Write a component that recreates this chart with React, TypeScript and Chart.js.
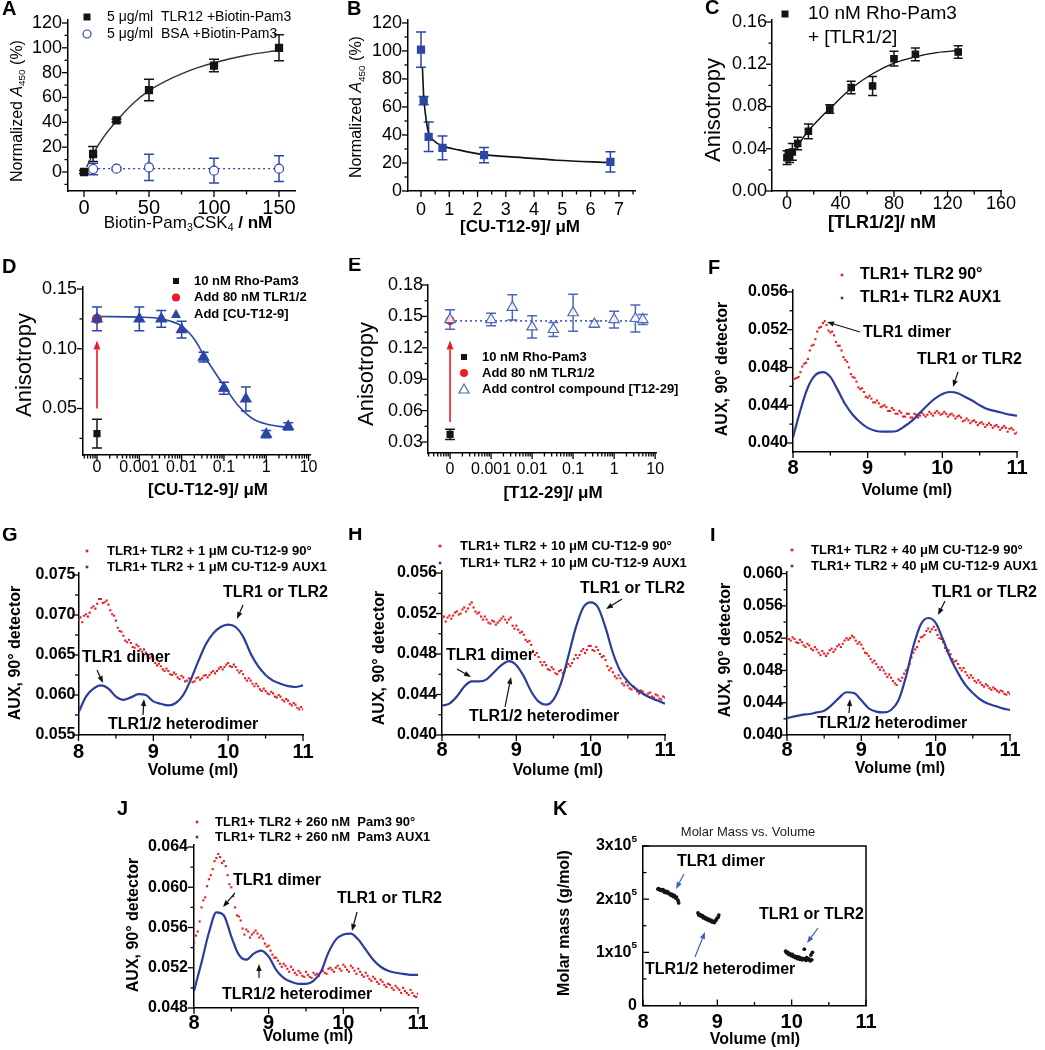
import React, { useEffect, useRef } from "react";
import { Chart, registerables } from "chart.js";
Chart.register(...registerables);

const FONT = '"Liberation Sans", Arial, Helvetica, sans-serif';
const BLACK = "#141414";
const BLUE = "#2c46a6";
const BLUE_LIGHT = "#4d66bd";
const RED = "#ea1c22";
const LINE_BLUE = "#2b3d9c";

// ---------------- Panel A ----------------
const aConc = [0, 7, 25, 50, 100, 150];
const aTlr12 = [0, 14.5, 41.5, 66, 85.7, 100];
const aTlr12Err = [1.2, 6, 1.2, 8.6, 5, 10.5];
const aBsaConc = [7, 25, 50, 100, 150];
const aBsa = [2.4, 2.7, 3.7, 1.1, 2.7];
const aBsaErr = [4.7, 1, 10.6, 10, 10.3];
const aFitConc = [2, 7, 15, 25, 37.5, 50, 62.5, 75, 87.5, 100, 125, 150];
const aFit = [4, 14.5, 28, 41, 55, 65.5, 73, 79, 84, 88, 94, 98];
const aBsaLevelConc = [7, 150];
const aBsaLevel = [2.7, 2.7];
const aXTicks = [0, 50, 100, 150];
const aXMinor = [25, 75, 125];
const aYTicks = [0, 20, 40, 60, 80, 100, 120];
const aYMinor = [-10, 10, 30, 50, 70, 90, 110];

// ---------------- Panel B ----------------
const bConc = [0, 0.094, 0.27, 0.76, 2.23, 6.7];
const bSignal = [100.9, 64.5, 38.7, 30.8, 25.6, 20.8];
const bErr = [12.6, 3, 10.5, 8.4, 5.5, 7.2];
const bFitConc = [0.05, 0.1, 0.15, 0.25, 0.45, 0.8, 1.3, 2.2, 3.5, 4.8, 6.7];
const bFit = [88, 66, 56, 43, 36, 32, 29.5, 26, 24, 22, 20.3];
const bXTicks = [0, 1, 2, 3, 4, 5, 6, 7];
const bXMinor = [0.5, 1.5, 2.5, 3.5, 4.5, 5.5, 6.5, 7.5];
const bYTicks = [0, 20, 40, 60, 80, 100, 120];
const bYMinor = [10, 30, 50, 70, 90, 110];

// ---------------- Panel C ----------------
const cConc = [0, 1, 2, 4, 8, 16, 32, 48, 64, 80, 96, 128];
const cAniso = [0.0316, 0.034, 0.033, 0.037, 0.045, 0.0565, 0.0776, 0.098, 0.0995, 0.1253, 0.1294, 0.1316];
const cErr = [0.0066, 0.004, 0.006, 0.008, 0.006, 0.007, 0.004, 0.006, 0.009, 0.007, 0.006, 0.006];
const cFitConc = [0, 4, 8, 16, 24, 32, 48, 64, 80, 96, 112, 128];
const cFit = [0.029, 0.036, 0.043, 0.057, 0.068, 0.078, 0.097, 0.111, 0.121, 0.127, 0.131, 0.133];
const cXTicks = [0, 40, 80, 120, 160];
const cXMinor = [20, 60, 100, 140];
const cYTicks = [0, 0.04, 0.08, 0.12, 0.16];
const cYLabels = ["0.00", "0.04", "0.08", "0.12", "0.16"];
const cYMinor = [0.02, 0.06, 0.1, 0.14];

// ---------------- Panel D ----------------
const dProbeConc = [1e-4];
const dProbe = [0.029];
const dProbeErr = [0.012];
const dTlrConc = [1e-4];
const dTlr = [0.125];
const dConc = [1e-4, 1e-3, 3.3e-3, 0.01, 0.033, 0.1, 0.33, 1, 3.3];
const dAniso = [0.125, 0.125, 0.125, 0.116, 0.093, 0.067, 0.058, 0.0285, 0.035];
const dErr = [0.01, 0.01, 0.007, 0.007, 0.004, 0.005, 0.01, 0.003, 0.003];
const dFitConc = [1e-4, 1e-3, 3.3e-3, 0.01, 0.02, 0.033, 0.05, 0.1, 0.2, 0.33, 0.5, 1, 3.3];
const dFit = [0.127, 0.1265, 0.125, 0.119, 0.108, 0.095, 0.085, 0.069, 0.054, 0.046, 0.041, 0.037, 0.034];
const logTicks = [1e-4, 1e-3, 1e-2, 0.1, 1, 10];
const logLabels = ["0", "0.001", "0.01", "0.1", "1", "10"];
const dYTicks = [0.05, 0.1, 0.15];
const dYLabels = ["0.05", "0.10", "0.15"];
const dYMinor = [0.025, 0.075, 0.125];

// ---------------- Panel E ----------------
const eProbeConc = [1e-4];
const eProbe = [0.0373];
const eProbeErr = [0.0048];
const eTlrConc = [1e-4];
const eTlr = [0.146];
const eConc = [1e-4, 1e-3, 3.3e-3, 0.01, 0.033, 0.1, 0.33, 1, 3.3, 5];
const eAniso = [0.147, 0.147, 0.1586, 0.14, 0.1375, 0.1535, 0.1427, 0.147, 0.148, 0.147];
const eErr = [0.0093, 0.006, 0.012, 0.0107, 0.0067, 0.0176, 0.003, 0.008, 0.013, 0.0048];
const eLevelConc = [1e-4, 5.7];
const eLevel = [0.1457, 0.1457];
const eYTicks = [0.03, 0.06, 0.09, 0.12, 0.15, 0.18];
const eYLabels = ["0.03", "0.06", "0.09", "0.12", "0.15", "0.18"];
const eYMinor = [0.045, 0.075, 0.105, 0.135, 0.165];

// ---------------- SEC traces F-J ----------------
const volBlue = [8.0, 8.1, 8.2, 8.3, 8.4, 8.5, 8.6, 8.7, 8.8, 8.9, 9.0, 9.1, 9.2, 9.3, 9.4, 9.5, 9.6, 9.7, 9.8, 9.9, 10.0, 10.1, 10.2, 10.3, 10.4, 10.5, 10.6, 10.7, 10.8, 10.9, 11.0];
const volRed = [8.0, 8.05, 8.1, 8.15, 8.2, 8.25, 8.3, 8.35, 8.4, 8.45, 8.5, 8.55, 8.6, 8.65, 8.7, 8.75, 8.8, 8.85, 8.9, 8.95, 9.0, 9.05, 9.1, 9.15, 9.2, 9.25, 9.3, 9.35, 9.4, 9.45, 9.5, 9.55, 9.6, 9.65, 9.7, 9.75, 9.8, 9.85, 9.9, 9.95, 10.0, 10.05, 10.1, 10.15, 10.2, 10.25, 10.3, 10.35, 10.4, 10.45, 10.5, 10.55, 10.6, 10.65, 10.7, 10.75, 10.8, 10.85, 10.9, 10.95, 11.0];
const volRedB = [8.025, 8.075, 8.125, 8.175, 8.225, 8.275, 8.325, 8.375, 8.425, 8.475, 8.525, 8.575, 8.625, 8.675, 8.725, 8.775, 8.825, 8.875, 8.925, 8.975, 9.025, 9.075, 9.125, 9.175, 9.225, 9.275, 9.325, 9.375, 9.425, 9.475, 9.525, 9.575, 9.625, 9.675, 9.725, 9.775, 9.825, 9.875, 9.925, 9.975, 10.025, 10.075, 10.125, 10.175, 10.225, 10.275, 10.325, 10.375, 10.425, 10.475, 10.525, 10.575, 10.625, 10.675, 10.725, 10.775, 10.825, 10.875, 10.925, 10.975];

const fAux1 = [0.0406, 0.0435, 0.0459, 0.0472, 0.0475, 0.047, 0.0456, 0.0441, 0.043, 0.0422, 0.0416, 0.0413, 0.0412, 0.0412, 0.0413, 0.0418, 0.0424, 0.0432, 0.044, 0.0447, 0.0452, 0.0454, 0.0453, 0.0449, 0.0445, 0.044, 0.0436, 0.0434, 0.0432, 0.043, 0.0429];
const f90 = [0.0463, 0.0469, 0.0475, 0.0484, 0.0489, 0.0503, 0.051, 0.0522, 0.0527, 0.0525, 0.0517, 0.0514, 0.0503, 0.0498, 0.0488, 0.048, 0.047, 0.0465, 0.0457, 0.0454, 0.0448, 0.0447, 0.0443, 0.0442, 0.0439, 0.0438, 0.0434, 0.0435, 0.0431, 0.0432, 0.0428, 0.0431, 0.0427, 0.043, 0.0429, 0.043, 0.043, 0.0431, 0.0432, 0.0432, 0.0431, 0.0431, 0.043, 0.0429, 0.0428, 0.0427, 0.0424, 0.0424, 0.0423, 0.0422, 0.0421, 0.042, 0.0419, 0.0419, 0.0418, 0.0417, 0.0416, 0.0416, 0.0415, 0.0414, 0.0411];
const f90b = [0.0468, 0.047, 0.0481, 0.0485, 0.0498, 0.0504, 0.0518, 0.0523, 0.0529, 0.0519, 0.0518, 0.0507, 0.0503, 0.0491, 0.0486, 0.0473, 0.0469, 0.0459, 0.0458, 0.0449, 0.045, 0.0443, 0.0445, 0.0438, 0.044, 0.0434, 0.0437, 0.0431, 0.0434, 0.0428, 0.0431, 0.0427, 0.0431, 0.0427, 0.0432, 0.0428, 0.0433, 0.0429, 0.0434, 0.043, 0.0433, 0.0428, 0.0431, 0.0426, 0.0429, 0.0423, 0.0426, 0.0421, 0.0424, 0.0419, 0.0422, 0.0417, 0.0421, 0.0416, 0.0419, 0.0414, 0.0418, 0.0412, 0.0416, 0.041];

const gAux1 = [0.0578, 0.0598, 0.0608, 0.0612, 0.0608, 0.0598, 0.0594, 0.0597, 0.0601, 0.06, 0.0592, 0.0589, 0.0587, 0.059, 0.06, 0.0619, 0.0642, 0.0663, 0.0677, 0.0685, 0.0688, 0.0685, 0.0673, 0.0652, 0.0636, 0.0625, 0.0618, 0.0614, 0.0611, 0.061, 0.0612];
const g90 = [0.0694, 0.0691, 0.0701, 0.0703, 0.0711, 0.0714, 0.072, 0.0716, 0.0713, 0.0701, 0.0693, 0.068, 0.0674, 0.0666, 0.0665, 0.0659, 0.0661, 0.0654, 0.0653, 0.0646, 0.0645, 0.0637, 0.0636, 0.063, 0.063, 0.0625, 0.0626, 0.062, 0.0622, 0.0618, 0.062, 0.0617, 0.0622, 0.0621, 0.0625, 0.0625, 0.063, 0.063, 0.0635, 0.0635, 0.064, 0.0635, 0.0635, 0.0628, 0.0626, 0.0618, 0.0618, 0.0611, 0.0611, 0.0605, 0.0605, 0.0601, 0.0602, 0.0597, 0.0598, 0.0592, 0.0593, 0.0587, 0.0588, 0.0582, 0.0582];
const g90b = [0.0697, 0.0699, 0.0698, 0.0709, 0.0708, 0.072, 0.0715, 0.0718, 0.0706, 0.0699, 0.0684, 0.0679, 0.0668, 0.0669, 0.066, 0.0663, 0.0657, 0.0657, 0.0648, 0.0648, 0.064, 0.0639, 0.0632, 0.0633, 0.0626, 0.0628, 0.0622, 0.0624, 0.0617, 0.0621, 0.0616, 0.0621, 0.0619, 0.0624, 0.0622, 0.0628, 0.0627, 0.0633, 0.0632, 0.0638, 0.0636, 0.0638, 0.0631, 0.063, 0.0621, 0.0621, 0.0614, 0.0614, 0.0607, 0.0608, 0.0602, 0.0604, 0.0598, 0.06, 0.0594, 0.0595, 0.0589, 0.059, 0.0584, 0.0585];

const hAux1 = [0.0429, 0.0431, 0.0438, 0.0448, 0.0453, 0.0453, 0.0455, 0.0462, 0.0469, 0.0473, 0.0469, 0.0458, 0.0443, 0.0433, 0.043, 0.0435, 0.0451, 0.0478, 0.0506, 0.0526, 0.0531, 0.0526, 0.0506, 0.0481, 0.0463, 0.0453, 0.0446, 0.0441, 0.0437, 0.0434, 0.0431];
const h90 = [0.0515, 0.0512, 0.0518, 0.0518, 0.0522, 0.052, 0.0526, 0.0525, 0.0531, 0.0522, 0.0521, 0.0514, 0.0514, 0.051, 0.0512, 0.0511, 0.0515, 0.0514, 0.0514, 0.0508, 0.0508, 0.0501, 0.0499, 0.0492, 0.0489, 0.0479, 0.0477, 0.0469, 0.0469, 0.0464, 0.0465, 0.046, 0.0464, 0.0463, 0.047, 0.0471, 0.0479, 0.0479, 0.0485, 0.0484, 0.0488, 0.0483, 0.0484, 0.0477, 0.0474, 0.0464, 0.0462, 0.0456, 0.0456, 0.0449, 0.0449, 0.0445, 0.0446, 0.0441, 0.0443, 0.0439, 0.0442, 0.0437, 0.0439, 0.0435, 0.0437];
const h90b = [0.0517, 0.0516, 0.0515, 0.0521, 0.0519, 0.0524, 0.0522, 0.0529, 0.0526, 0.052, 0.0517, 0.0517, 0.0511, 0.0513, 0.0509, 0.0513, 0.0517, 0.0511, 0.0516, 0.0505, 0.0504, 0.0502, 0.0494, 0.0493, 0.0483, 0.0481, 0.0472, 0.0472, 0.0465, 0.0467, 0.0461, 0.0463, 0.0461, 0.0467, 0.0468, 0.0475, 0.0476, 0.0483, 0.0481, 0.0488, 0.0484, 0.0487, 0.048, 0.0478, 0.0468, 0.0466, 0.0458, 0.0459, 0.0451, 0.0452, 0.0446, 0.0448, 0.0443, 0.0444, 0.044, 0.0441, 0.0438, 0.044, 0.0436, 0.0438];

const iAux1 = [0.0421, 0.0423, 0.0425, 0.0426, 0.0428, 0.043, 0.0437, 0.0446, 0.0453, 0.0452, 0.0443, 0.0433, 0.0429, 0.0428, 0.0431, 0.0443, 0.0472, 0.051, 0.0537, 0.0545, 0.0539, 0.0518, 0.0495, 0.0477, 0.0462, 0.0452, 0.0444, 0.0439, 0.0436, 0.0433, 0.0431];
const i90 = [0.0523, 0.0517, 0.0519, 0.0514, 0.0515, 0.0509, 0.0511, 0.0505, 0.0506, 0.0499, 0.0501, 0.0501, 0.0507, 0.0506, 0.0512, 0.0513, 0.052, 0.052, 0.0521, 0.0513, 0.0512, 0.0502, 0.0498, 0.049, 0.0488, 0.0481, 0.048, 0.0472, 0.0471, 0.0464, 0.0469, 0.0471, 0.048, 0.0488, 0.0502, 0.0509, 0.0521, 0.0524, 0.0532, 0.0531, 0.053, 0.052, 0.0515, 0.0504, 0.05, 0.0491, 0.0488, 0.048, 0.0478, 0.0471, 0.0471, 0.0465, 0.0465, 0.046, 0.0461, 0.0456, 0.0457, 0.0453, 0.0454, 0.045, 0.0451];
const i90b = [0.0519, 0.0521, 0.0515, 0.0518, 0.0511, 0.0513, 0.0507, 0.0509, 0.0502, 0.0504, 0.0498, 0.0505, 0.0503, 0.051, 0.0509, 0.0517, 0.0518, 0.0523, 0.0517, 0.0515, 0.0507, 0.0501, 0.0494, 0.0492, 0.0484, 0.0484, 0.0476, 0.0475, 0.0467, 0.0462, 0.0467, 0.0476, 0.0483, 0.0496, 0.0506, 0.0516, 0.0522, 0.0529, 0.0528, 0.0534, 0.0524, 0.0519, 0.0508, 0.0505, 0.0494, 0.0492, 0.0483, 0.0483, 0.0474, 0.0474, 0.0467, 0.0468, 0.0462, 0.0463, 0.0458, 0.0459, 0.0455, 0.0455, 0.0451, 0.0453];

const jAux1 = [0.0497, 0.0525, 0.0555, 0.0575, 0.0572, 0.0551, 0.0533, 0.0528, 0.0534, 0.0537, 0.0531, 0.0518, 0.051, 0.0506, 0.0504, 0.0504, 0.0507, 0.0516, 0.0535, 0.0548, 0.0553, 0.0554, 0.0548, 0.0538, 0.0528, 0.0521, 0.0517, 0.0515, 0.0514, 0.0513, 0.0513];
const j90 = [0.0545, 0.0556, 0.058, 0.059, 0.0608, 0.0618, 0.0629, 0.063, 0.0626, 0.0612, 0.06, 0.058, 0.0571, 0.0559, 0.0558, 0.055, 0.0555, 0.0554, 0.0552, 0.0544, 0.0542, 0.0533, 0.053, 0.0524, 0.0524, 0.0519, 0.0521, 0.0515, 0.0517, 0.0512, 0.0516, 0.0511, 0.0515, 0.0514, 0.0516, 0.0515, 0.0519, 0.0518, 0.052, 0.0519, 0.0523, 0.0518, 0.0522, 0.0517, 0.0519, 0.0513, 0.0515, 0.0509, 0.0511, 0.0506, 0.0508, 0.0503, 0.0504, 0.05, 0.0502, 0.0498, 0.05, 0.0495, 0.0498, 0.0492, 0.0494];
const j90b = [0.0552, 0.0566, 0.0587, 0.0601, 0.0612, 0.0626, 0.0633, 0.0624, 0.0621, 0.0603, 0.0591, 0.0572, 0.0567, 0.0553, 0.0556, 0.0553, 0.0557, 0.055, 0.0549, 0.0541, 0.0537, 0.053, 0.0527, 0.0521, 0.0522, 0.0516, 0.0518, 0.0513, 0.0515, 0.0511, 0.0513, 0.051, 0.0513, 0.0512, 0.0517, 0.0514, 0.052, 0.0516, 0.0522, 0.0517, 0.0521, 0.0516, 0.052, 0.0514, 0.0516, 0.0511, 0.0512, 0.0507, 0.0509, 0.0504, 0.0506, 0.0501, 0.0503, 0.0498, 0.05, 0.0495, 0.0497, 0.0493, 0.0495, 0.0491];

const volTicks = [8, 9, 10, 11];
const volMinor = [8.5, 9.5, 10.5];
const fYTicks = [0.04, 0.044, 0.048, 0.052, 0.056];
const fYLabels = ["0.040", "0.044", "0.048", "0.052", "0.056"];
const fYMinor = [0.042, 0.046, 0.05, 0.054];
const gYTicks = [0.055, 0.06, 0.065, 0.07, 0.075];
const gYLabels = ["0.055", "0.060", "0.065", "0.070", "0.075"];
const gYMinor = [0.0575, 0.0625, 0.0675, 0.0725];
const iYTicks = [0.04, 0.044, 0.048, 0.052, 0.056, 0.06];
const iYLabels = ["0.040", "0.044", "0.048", "0.052", "0.056", "0.060"];
const iYMinor = [0.042, 0.046, 0.05, 0.054, 0.058];
const jYTicks = [0.048, 0.052, 0.056, 0.06, 0.064];
const jYLabels = ["0.048", "0.052", "0.056", "0.060", "0.064"];
const jYMinor = [0.05, 0.054, 0.058, 0.062];

// ---------------- Panel K ----------------
const kVol = [8.2, 8.21, 8.23, 8.24, 8.26, 8.27, 8.29, 8.3, 8.32, 8.33, 8.35, 8.36, 8.38, 8.39, 8.41, 8.42, 8.44, 8.45, 8.47, 8.48,
  8.74, 8.75, 8.77, 8.78, 8.8, 8.81, 8.83, 8.84, 8.86, 8.87, 8.89, 8.9, 8.92, 8.93, 8.95, 8.96, 8.98, 8.99, 9.01, 9.02,
  9.92, 9.93, 9.95, 9.96, 9.98, 9.99, 10.01, 10.02, 10.04, 10.05, 10.07, 10.08, 10.1, 10.11, 10.13, 10.14, 10.16, 10.17, 10.19, 10.2, 10.22, 10.23, 10.25, 10.26, 10.27, 10.28];
const kMass = [219000, 220000, 217000, 218000, 216000, 218000, 213000, 215000, 212000, 214000, 210000, 211000, 207000, 209000, 205000, 207000, 202000, 204000, 198000, 193000,
  174000, 170000, 171000, 168000, 169000, 165000, 166000, 163000, 164000, 161000, 162000, 159000, 160000, 157000, 158000, 156000, 160000, 163000, 166000, 170000,
  102000, 99000, 100000, 96000, 97000, 94000, 96000, 92000, 93000, 90000, 92000, 88000, 91000, 87000, 89000, 86000, 88000, 106000, 85000, 90000, 86000, 88000, 84000, 95000, 86000, 100000];
const kYTicks = [0, 100000, 200000, 300000];
const kYMinor = [50000, 150000, 250000];

// ---------------- helpers ----------------
const zip = (xs: number[], ys: number[]) => xs.map((x, i) => ({ x, y: ys[i] }));

function lineDs(xs: number[], ys: number[], color: string, width: number, dash: number[] = []) {
  return {
    data: zip(xs, ys), showLine: true, pointRadius: 0, borderColor: color, borderWidth: width,
    borderDash: dash, cubicInterpolationMode: "monotone", fill: false,
  };
}
function ptsDs(xs: number[], ys: number[], style: string, r: number, fillC: string, stroke: string, extra: any = {}) {
  return {
    data: zip(xs, ys), showLine: false, pointStyle: style, pointRadius: r, backgroundColor: fillC,
    borderColor: stroke, borderWidth: 1.2, ...extra,
  };
}
function redDots(xs: number[], ys: number[]) {
  return { data: zip(xs, ys), showLine: false, pointStyle: "rect", pointRadius: 1.5, backgroundColor: RED, borderWidth: 0 };
}
function blueTrace(ys: number[]) {
  return lineDs(volBlue, ys, LINE_BLUE, 2.2);
}
function logMinor(min: number, max: number) {
  const out: number[] = [];
  for (let d = -6; d <= 2; d++) {
    for (let k = 2; k <= 9; k++) {
      const v = k * Math.pow(10, d);
      if (v > min && v < max) out.push(v);
    }
  }
  return out;
}

type Run = { s: string; sub?: boolean; sup?: boolean; it?: boolean; b?: boolean };
type Txt = { r: string | Run[]; x: number; y: number; size: number; bold?: boolean; align?: string; rot?: boolean; color?: string };
type Arrow = { x1: number; y1: number; x2: number; y2: number; color?: string; w?: number; head?: number };
type LegendItem = { marker?: string; color?: string; mx?: number; tx: number; y: number; text: string; size: number; bold?: boolean };
type AxisSpec = { log?: boolean; min: number; max: number; major: number[]; minor: number[]; labels: string[]; size: number; bold?: boolean; pad: number };
type PanelSpec = {
  box: number[]; area: number[]; x: AxisSpec; y: AxisSpec; datasets: any[];
  texts: Txt[]; arrows?: Arrow[]; dataArrows?: Arrow[]; legend?: LegendItem[];
  frame?: boolean; inward?: boolean; yRich?: Run[][];
};

function drawRich(ctx: CanvasRenderingContext2D, r: string | Run[], x: number, y: number, size: number,
  align: string = "left", bold = false, rot = false, color = "#000") {
  const runs: Run[] = typeof r === "string" ? [{ s: r }] : r;
  const parts = runs.map((p) => {
    const sz = p.sub || p.sup ? size * 0.62 : size;
    const isB = p.b !== undefined ? p.b : bold;
    const font = `${p.it ? "italic " : ""}${isB ? "bold " : ""}${sz}px ${FONT}`;
    ctx.font = font;
    const w = ctx.measureText(p.s).width;
    const dy = p.sub ? size * 0.3 : p.sup ? -size * 0.42 : 0;
    return { s: p.s, font, w, dy };
  });
  const total = parts.reduce((a, p) => a + p.w, 0);
  ctx.save();
  ctx.translate(x, y);
  if (rot) ctx.rotate(-Math.PI / 2);
  let cx = align === "center" ? -total / 2 : align === "right" ? -total : 0;
  ctx.textBaseline = "middle";
  ctx.textAlign = "left";
  ctx.fillStyle = color;
  parts.forEach((p) => { ctx.font = p.font; ctx.fillText(p.s, cx, p.dy); cx += p.w; });
  ctx.restore();
}

function drawArrow(ctx: CanvasRenderingContext2D, x1: number, y1: number, x2: number, y2: number, color = "#111", w = 1.2, head = 7) {
  const ang = Math.atan2(y2 - y1, x2 - x1);
  const bx = x2 - head * Math.cos(ang);
  const by = y2 - head * Math.sin(ang);
  ctx.save();
  ctx.strokeStyle = color; ctx.fillStyle = color; ctx.lineWidth = w;
  ctx.beginPath(); ctx.moveTo(x1, y1); ctx.lineTo(bx, by); ctx.stroke();
  const hw = head * 0.38;
  ctx.beginPath();
  ctx.moveTo(x2, y2);
  ctx.lineTo(bx + hw * Math.sin(ang), by - hw * Math.cos(ang));
  ctx.lineTo(bx - hw * Math.sin(ang), by + hw * Math.cos(ang));
  ctx.closePath(); ctx.fill();
  ctx.restore();
}

function drawMarker(ctx: CanvasRenderingContext2D, kind: string, x: number, y: number, color: string) {
  ctx.save();
  ctx.fillStyle = color; ctx.strokeStyle = color; ctx.lineWidth = 1.2;
  if (kind === "rect") ctx.fillRect(x - 3.5, y - 3.5, 7, 7);
  else if (kind === "rectS") ctx.fillRect(x - 3, y - 3, 6, 6);
  else if (kind === "circle") { ctx.beginPath(); ctx.arc(x, y, 4, 0, Math.PI * 2); ctx.fill(); }
  else if (kind === "circleOpen") { ctx.beginPath(); ctx.arc(x, y, 4, 0, Math.PI * 2); ctx.fillStyle = "#fff"; ctx.fill(); ctx.stroke(); }
  else if (kind === "tri" || kind === "triOpen") {
    ctx.beginPath(); ctx.moveTo(x, y - 5); ctx.lineTo(x - 5, y + 4); ctx.lineTo(x + 5, y + 4); ctx.closePath();
    if (kind === "tri") ctx.fill(); else { ctx.fillStyle = "#fff"; ctx.fill(); ctx.stroke(); }
  } else if (kind === "dot") ctx.fillRect(x - 1.3, y - 1.3, 2.6, 2.6);
  ctx.restore();
}

const errorBarPlugin = {
  id: "errbars",
  beforeDatasetsDraw(chart: any) {
    const ctx = chart.ctx as CanvasRenderingContext2D;
    const xs = chart.scales.x, ys = chart.scales.y;
    chart.data.datasets.forEach((ds: any) => {
      if (!ds.errors) return;
      ctx.save();
      ctx.strokeStyle = ds.errorColor || ds.borderColor;
      ctx.lineWidth = 1.5;
      ds.data.forEach((pt: any, j: number) => {
        const e = ds.errors[j];
        if (!e) return;
        const x = xs.getPixelForValue(pt.x);
        const y1 = ys.getPixelForValue(pt.y - e);
        const y2 = ys.getPixelForValue(pt.y + e);
        const c = ds.cap || 5;
        ctx.beginPath();
        ctx.moveTo(x, y1); ctx.lineTo(x, y2);
        ctx.moveTo(x - c, y1); ctx.lineTo(x + c, y1);
        ctx.moveTo(x - c, y2); ctx.lineTo(x + c, y2);
        ctx.stroke();
      });
      ctx.restore();
    });
  },
};

function overlayPlugin(spec: PanelSpec) {
  return {
    id: "overlay",
    afterDraw(chart: any) {
      const ctx = chart.ctx as CanvasRenderingContext2D;
      const xs = chart.scales.x, ys = chart.scales.y;
      const a = chart.chartArea;
      const dir = spec.inward ? -1 : 1;
      ctx.save();
      ctx.strokeStyle = "#000";
      ctx.lineWidth = 1.3;
      const xt = (v: number, len: number) => {
        const p = xs.getPixelForValue(v);
        ctx.beginPath(); ctx.moveTo(p, a.bottom); ctx.lineTo(p, a.bottom + dir * len); ctx.stroke();
      };
      const yt = (v: number, len: number) => {
        const p = ys.getPixelForValue(v);
        ctx.beginPath(); ctx.moveTo(a.left, p); ctx.lineTo(a.left - dir * len, p); ctx.stroke();
      };
      spec.x.major.forEach((v) => xt(v, 6));
      spec.x.minor.forEach((v) => xt(v, 3.5));
      spec.y.major.forEach((v) => yt(v, 6));
      spec.y.minor.forEach((v) => yt(v, 3.5));
      if (spec.frame) {
        ctx.lineWidth = 1.5;
        ctx.beginPath();
        ctx.moveTo(a.left, a.top); ctx.lineTo(a.right, a.top); ctx.lineTo(a.right, a.bottom);
        ctx.stroke();
      }
      (spec.dataArrows || []).forEach((r) => {
        drawArrow(ctx, xs.getPixelForValue(r.x1), ys.getPixelForValue(r.y1), xs.getPixelForValue(r.x2), ys.getPixelForValue(r.y2), r.color, r.w, r.head);
      });
      if (spec.yRich) {
        spec.yRich.forEach((runs, i) => {
          drawRich(ctx, runs, a.left - 6, ys.getPixelForValue(spec.y.major[i]), spec.y.size, "right", true);
        });
      }
      ctx.translate(-spec.box[0], -spec.box[1]);
      spec.texts.forEach((t) => drawRich(ctx, t.r, t.x, t.y, t.size, t.align || "left", !!t.bold, !!t.rot, t.color || "#000"));
      (spec.arrows || []).forEach((r) => drawArrow(ctx, r.x1, r.y1, r.x2, r.y2, r.color || "#111", r.w || 1.2, r.head || 7));
      (spec.legend || []).forEach((li) => {
        if (li.marker) drawMarker(ctx, li.marker, li.mx || 0, li.y, li.color || "#000");
        drawRich(ctx, li.text, li.tx, li.y, li.size, "left", !!li.bold);
      });
      ctx.restore();
    },
  };
}

function axisOptions(ax: AxisSpec, size: number, horizontal: boolean) {
  return {
    type: ax.log ? "logarithmic" : "linear",
    position: horizontal ? "bottom" : "left",
    min: ax.min,
    max: ax.max,
    afterBuildTicks: (s: any) => { s.ticks = ax.major.map((v) => ({ value: v })); },
    afterFit: (s: any) => {
      if (horizontal) s.height = size; else s.width = size;
      s.paddingLeft = 0; s.paddingRight = 0; s.paddingTop = 0; s.paddingBottom = 0;
    },
    ticks: {
      autoSkip: false, maxRotation: 0, minRotation: 0, padding: ax.pad, color: "#000",
      font: { family: FONT, size: ax.size, weight: ax.bold ? "bold" : "normal" },
      callback: (_v: any, i: number) => (ax.labels[i] !== undefined ? ax.labels[i] : ""),
    },
    grid: { display: false, drawTicks: false },
    border: { display: true, color: "#000", width: 1.5 },
  };
}

function buildConfig(spec: PanelSpec): any {
  const [cl, ct, cw, ch] = spec.box;
  const [pl, pt, pr, pb] = spec.area;
  return {
    type: "scatter",
    data: { datasets: spec.datasets },
    options: {
      animation: false, responsive: false, maintainAspectRatio: false, events: [],
      layout: { padding: { left: 0, top: pt - ct, right: cl + cw - pr, bottom: 0 } },
      plugins: { legend: { display: false }, tooltip: { enabled: false }, title: { display: false } },
      scales: {
        x: axisOptions(spec.x, ct + ch - pb, true),
        y: axisOptions(spec.y, pl - cl, false),
      },
    },
    plugins: [errorBarPlugin, overlayPlugin(spec)],
  };
}

const volAxis = (pad: number): AxisSpec => ({ min: 8, max: 11, major: volTicks, minor: volMinor, labels: ["8", "9", "10", "11"], size: 20, bold: true, pad });
const auxTitle = (x: number, y: number): Txt => ({ r: "AUX, 90° detector", x, y, size: 16, bold: true, rot: true, align: "center" });
const volTitle = (x: number, y: number): Txt => ({ r: "Volume (ml)", x, y, size: 16, bold: true, align: "center" });
const letter = (s: string, x: number, y: number): Txt => ({ r: s, x, y, size: 20, bold: true });
const ann = (s: string, x: number, y: number): Txt => ({ r: s, x, y, size: 16, bold: true });
const normTitle: Run[] = [{ s: "Normalized " }, { s: "A", it: true }, { s: "450", sub: true }, { s: " (%)" }];

const panels: PanelSpec[] = [
  // A
  {
    box: [0, 0, 345, 262], area: [68, 20, 295, 191],
    x: { min: -12.3, max: 162.3, major: aXTicks, minor: aXMinor, labels: aXTicks.map(String), size: 20, pad: 5 },
    y: { min: -15.3, max: 122.4, major: aYTicks, minor: aYMinor, labels: aYTicks.map(String), size: 18, pad: 6 },
    datasets: [
      ptsDs(aConc, aTlr12, "rect", 5, BLACK, BLACK, { errors: aTlr12Err, cap: 5 }),
      ptsDs(aBsaConc, aBsa, "circle", 4.5, "#fff", BLUE, { errors: aBsaErr, cap: 5 }),
      lineDs(aFitConc, aFit, "#333", 1.4),
      lineDs(aBsaLevelConc, aBsaLevel, BLUE, 1.4, [2, 3]),
    ],
    texts: [
      letter("A", 2, 9.5),
      { r: normTitle, x: 17.5, y: 111, size: 16, rot: true, align: "center" },
      { r: [{ s: "Biotin-Pam" }, { s: "3", sub: true }, { s: "CSK" }, { s: "4", sub: true }, { s: " / nM", b: true }], x: 188, y: 223, size: 17, align: "center" },
    ],
    legend: [
      { marker: "rect", color: BLACK, mx: 87, tx: 107, y: 17, text: "5 μg/ml  TLR12 +Biotin-Pam3", size: 14 },
      { marker: "circleOpen", color: BLUE, mx: 87, tx: 107, y: 34, text: "5 μg/ml  BSA +Biotin-Pam3", size: 14 },
    ],
  },
  // B
  {
    box: [340, 0, 365, 262], area: [408, 20, 635, 191],
    x: { min: -0.46, max: 7.57, major: bXTicks, minor: bXMinor, labels: bXTicks.map(String), size: 18, pad: 8 },
    y: { min: 0, max: 122.1, major: bYTicks, minor: bYMinor, labels: bYTicks.map(String), size: 18, pad: 6 },
    datasets: [
      ptsDs(bConc, bSignal, "rect", 5, BLUE, BLUE, { errors: bErr, cap: 5 }),
      lineDs(bFitConc, bFit, "#111", 1.6),
    ],
    texts: [
      letter("B", 347, 9.5),
      { r: normTitle, x: 357, y: 107, size: 16, rot: true, align: "center" },
      { r: "[CU-T12-9]/ μM", x: 520, y: 227, size: 17, bold: true, align: "center" },
    ],
  },
  // C
  {
    box: [700, 0, 345, 262], area: [772, 20, 1001, 191],
    x: { min: -11.2, max: 160, major: cXTicks, minor: cXMinor, labels: cXTicks.map(String), size: 18, pad: 2.5 },
    y: { min: 0, max: 0.1619, major: cYTicks, minor: cYMinor, labels: cYLabels, size: 18, pad: 5 },
    datasets: [
      ptsDs(cConc, cAniso, "rect", 4.5, BLACK, BLACK, { errors: cErr, cap: 4.5 }),
      lineDs(cFitConc, cFit, "#111", 1.4),
    ],
    texts: [
      letter("C", 705, 8),
      { r: "Anisotropy", x: 714, y: 110, size: 22, rot: true, align: "center" },
      { r: "[TLR1/2]/ nM", x: 882, y: 223, size: 18, bold: true, align: "center" },
    ],
    legend: [
      { marker: "rect", color: BLACK, mx: 785, tx: 808, y: 14, text: "10 nM Rho-Pam3", size: 19 },
      { tx: 808, y: 38, text: "+ [TLR1/2]", size: 19 },
    ],
  },
  // D
  {
    box: [0, 258, 345, 272], area: [83, 287, 310, 455],
    x: { log: true, min: 4.67e-5, max: 10.8, major: logTicks, minor: logMinor(4.67e-5, 10.8), labels: logLabels, size: 16, pad: 3.4 },
    y: { min: 0.0111, max: 0.1517, major: dYTicks, minor: dYMinor, labels: dYLabels, size: 18, pad: 6 },
    datasets: [
      ptsDs(dProbeConc, dProbe, "rect", 4.2, BLACK, BLACK, { errors: dProbeErr, cap: 5 }),
      ptsDs(dConc, dAniso, "triangle", 6, BLUE, BLUE, { errors: dErr, cap: 5 }),
      ptsDs(dTlrConc, dTlr, "circle", 4.5, RED, RED),
      lineDs(dFitConc, dFit, BLUE, 1.6),
    ],
    dataArrows: [{ x1: 1e-4, y1: 0.05, x2: 1e-4, y2: 0.107, color: RED, w: 1.6, head: 9 }],
    texts: [
      letter("D", 2, 267),
      { r: "Anisotropy", x: 25, y: 365, size: 22, rot: true, align: "center" },
      { r: "[CU-T12-9]/ μM", x: 208, y: 490, size: 17, bold: true, align: "center" },
    ],
    legend: [
      { marker: "rectS", color: BLACK, mx: 176, tx: 194, y: 281, text: "10 nM Rho-Pam3", size: 13, bold: true },
      { marker: "circle", color: RED, mx: 176, tx: 194, y: 297.5, text: "Add 80 nM TLR1/2", size: 13, bold: true },
      { marker: "tri", color: BLUE, mx: 176, tx: 194, y: 314, text: "Add [CU-T12-9]", size: 13, bold: true },
    ],
  },
  // E
  {
    box: [340, 258, 365, 272], area: [428, 285, 656, 453],
    x: { log: true, min: 2.9e-5, max: 10.5, major: logTicks, minor: logMinor(2.9e-5, 10.5), labels: logLabels, size: 16, pad: 7 },
    y: { min: 0.0195, max: 0.18, major: eYTicks, minor: eYMinor, labels: eYLabels, size: 18, pad: 5 },
    datasets: [
      ptsDs(eProbeConc, eProbe, "rect", 4.2, BLACK, BLACK, { errors: eProbeErr, cap: 5 }),
      ptsDs(eConc, eAniso, "triangle", 6, "rgba(255,255,255,0.85)", BLUE_LIGHT, { errors: eErr, cap: 5, errorColor: BLUE_LIGHT }),
      ptsDs(eTlrConc, eTlr, "circle", 4, RED, RED),
      lineDs(eLevelConc, eLevel, BLUE_LIGHT, 1.6, [2, 3]),
    ],
    dataArrows: [{ x1: 1e-4, y1: 0.049, x2: 1e-4, y2: 0.127, color: RED, w: 1.6, head: 9 }],
    texts: [
      letter("E", 348, 265),
      { r: "Anisotropy", x: 367, y: 374, size: 22, rot: true, align: "center" },
      { r: "[T12-29]/ μM", x: 553, y: 493, size: 17, bold: true, align: "center" },
    ],
    legend: [
      { marker: "rectS", color: BLACK, mx: 464, tx: 482, y: 357, text: "10 nM Rho-Pam3", size: 13, bold: true },
      { marker: "circle", color: RED, mx: 464, tx: 482, y: 373, text: "Add 80 nM TLR1/2", size: 13, bold: true },
      { marker: "triOpen", color: BLUE_LIGHT, mx: 464, tx: 482, y: 389, text: "Add control compound [T12-29]", size: 13, bold: true },
    ],
  },
  // F
  {
    box: [700, 258, 345, 272], area: [793, 290, 1017, 452],
    x: volAxis(4),
    y: { min: 0.03905, max: 0.0562, major: fYTicks, minor: fYMinor, labels: fYLabels, size: 16, bold: true, pad: 5 },
    datasets: [blueTrace(fAux1), redDots(volRed, f90), redDots(volRedB, f90b)],
    texts: [
      letter("F", 708, 268), auxTitle(723, 369), volTitle(907, 491),
      ann("TLR1 dimer", 863, 333), ann("TLR1 or TLR2", 917, 360),
    ],
    arrows: [{ x1: 860, y1: 332, x2: 827, y2: 322 }, { x1: 958, y1: 372, x2: 953, y2: 387 }],
    legend: [
      { marker: "dot", color: RED, mx: 842, tx: 860, y: 275, text: "TLR1+ TLR2 90°", size: 16, bold: true },
      { marker: "dot", color: LINE_BLUE, mx: 842, tx: 860, y: 298, text: "TLR1+ TLR2 AUX1", size: 16, bold: true },
    ],
  },
  // G
  {
    box: [0, 528, 345, 272], area: [78.5, 573, 303, 735],
    x: volAxis(5),
    y: { min: 0.055, max: 0.07525, major: gYTicks, minor: gYMinor, labels: gYLabels, size: 16, bold: true, pad: 3 },
    datasets: [blueTrace(gAux1), redDots(volRed, g90), redDots(volRedB, g90b)],
    texts: [
      letter("G", 2, 535), auxTitle(16, 653), volTitle(193, 771),
      ann("TLR1 or TLR2", 223, 593), ann("TLR1 dimer", 82, 658), ann("TLR1/2 heterodimer", 108, 725),
    ],
    arrows: [{ x1: 243, y1: 605, x2: 237, y2: 619 }, { x1: 97, y1: 670, x2: 103, y2: 683 }, { x1: 143, y1: 715, x2: 144, y2: 699 }],
    legend: [
      { marker: "dot", color: RED, mx: 87, tx: 107, y: 551, text: "TLR1+ TLR2 + 1 μM CU-T12-9 90°", size: 13, bold: true },
      { marker: "dot", color: LINE_BLUE, mx: 87, tx: 107, y: 567, text: "TLR1+ TLR2 + 1 μM CU-T12-9 AUX1", size: 13, bold: true },
    ],
  },
  // H
  {
    box: [340, 528, 365, 272], area: [442, 571, 665, 735],
    x: volAxis(3),
    y: { min: 0.04, max: 0.0562, major: fYTicks, minor: fYMinor, labels: fYLabels, size: 16, bold: true, pad: 5 },
    datasets: [blueTrace(hAux1), redDots(volRed, h90), redDots(volRedB, h90b)],
    texts: [
      letter("H", 348, 534), auxTitle(380, 658), volTitle(558, 771),
      ann("TLR1 or TLR2", 580, 589), ann("TLR1 dimer", 446, 656), ann("TLR1/2 heterodimer", 469, 717),
    ],
    arrows: [{ x1: 622, y1: 599, x2: 606, y2: 609 }, { x1: 457, y1: 669, x2: 471, y2: 677 }, { x1: 505, y1: 707, x2: 511, y2: 677 }],
    legend: [
      { marker: "dot", color: RED, mx: 440, tx: 460, y: 546, text: "TLR1+ TLR2 + 10 μM CU-T12-9 90°", size: 13, bold: true },
      { marker: "dot", color: LINE_BLUE, mx: 440, tx: 460, y: 563, text: "TLR1+ TLR2 + 10 μM CU-T12-9 AUX1", size: 13, bold: true },
    ],
  },
  // I
  {
    box: [700, 528, 345, 272], area: [787, 572, 1010, 735],
    x: volAxis(3),
    y: { min: 0.04, max: 0.0602, major: iYTicks, minor: iYMinor, labels: iYLabels, size: 16, bold: true, pad: 4 },
    datasets: [blueTrace(iAux1), redDots(volRed, i90), redDots(volRedB, i90b)],
    texts: [
      letter("I", 710, 535), auxTitle(726, 650), volTitle(900, 769),
      ann("TLR1 or TLR2", 932, 593), ann("TLR1/2 heterodimer", 817, 724),
    ],
    arrows: [{ x1: 945, y1: 601, x2: 938, y2: 615 }, { x1: 849, y1: 713, x2: 850, y2: 699 }],
    legend: [
      { marker: "dot", color: RED, mx: 792, tx: 811, y: 550, text: "TLR1+ TLR2 + 40 μM CU-T12-9 90°", size: 13, bold: true },
      { marker: "dot", color: LINE_BLUE, mx: 792, tx: 811, y: 566, text: "TLR1+ TLR2 + 40 μM CU-T12-9 AUX1", size: 13, bold: true },
    ],
  },
  // J
  {
    box: [100, 798, 445, 252], area: [194, 845, 418, 1008],
    x: volAxis(3),
    y: { min: 0.048, max: 0.0642, major: jYTicks, minor: jYMinor, labels: jYLabels, size: 16, bold: true, pad: 6 },
    datasets: [blueTrace(jAux1), redDots(volRed, j90), redDots(volRedB, j90b)],
    texts: [
      letter("J", 117, 809), auxTitle(134, 925), volTitle(308, 1037),
      ann("TLR1 dimer", 233, 881), ann("TLR1 or TLR2", 337, 899), ann("TLR1/2 heterodimer", 222, 995),
    ],
    arrows: [{ x1: 235, y1: 893, x2: 223, y2: 907 }, { x1: 357, y1: 912, x2: 352, y2: 931 }, { x1: 259, y1: 978, x2: 259, y2: 964 }],
    legend: [
      { marker: "dot", color: RED, mx: 197, tx: 215, y: 822, text: "TLR1+ TLR2 + 260 nM  Pam3 90°", size: 13, bold: true },
      { marker: "dot", color: LINE_BLUE, mx: 197, tx: 215, y: 837, text: "TLR1+ TLR2 + 260 nM  Pam3 AUX1", size: 13, bold: true },
    ],
  },
  // K
  {
    box: [545, 798, 500, 252], area: [643, 846, 866, 1005.5],
    x: volAxis(4.5),
    y: { min: 0, max: 300000, major: kYTicks, minor: kYMinor, labels: ["", "", "", ""], size: 16, bold: true, pad: 6 },
    datasets: [ptsDs(kVol, kMass, "circle", 1.9, BLACK, BLACK, { borderWidth: 0 })],
    frame: true, inward: true,
    yRich: [
      [{ s: "0" }],
      [{ s: "1x10" }, { s: "5", sup: true }],
      [{ s: "2x10" }, { s: "5", sup: true }],
      [{ s: "3x10" }, { s: "5", sup: true }],
    ],
    texts: [
      letter("K", 553, 809),
      { r: "Molar Mass vs. Volume", x: 748, y: 832, size: 13, align: "center", color: "#222" },
      { r: "Molar mass (g/mol)", x: 565, y: 923, size: 16, bold: true, rot: true, align: "center" },
      volTitle(755, 1040),
      ann("TLR1 dimer", 677, 862), ann("TLR1/2 heterodimer", 645, 970), ann("TLR1 or TLR2", 759, 915),
    ],
    arrows: [
      { x1: 684, y1: 874, x2: 676, y2: 889, color: "#3a5fc8" },
      { x1: 695, y1: 957, x2: 705, y2: 932, color: "#3a5fc8" },
      { x1: 818, y1: 928, x2: 807, y2: 943, color: "#3a5fc8" },
    ],
  },
];

function Panel({ spec }: { spec: PanelSpec }) {
  const ref = useRef<HTMLCanvasElement>(null);
  useEffect(() => {
    if (!ref.current) return;
    const chart = new Chart(ref.current, buildConfig(spec));
    return () => chart.destroy();
  }, [spec]);
  const [l, t, w, h] = spec.box;
  return (
    <canvas ref={ref} width={w} height={h}
      style={{ position: "absolute", left: l, top: t, width: w, height: h, display: "block" }} />
  );
}

export default function App() {
  return (
    <div style={{ position: "absolute", left: 0, top: 0, width: 1045, height: 1050, background: "#fff", overflow: "hidden" }}>
      {panels.map((p, i) => <Panel key={i} spec={p} />)}
    </div>
  );
}
